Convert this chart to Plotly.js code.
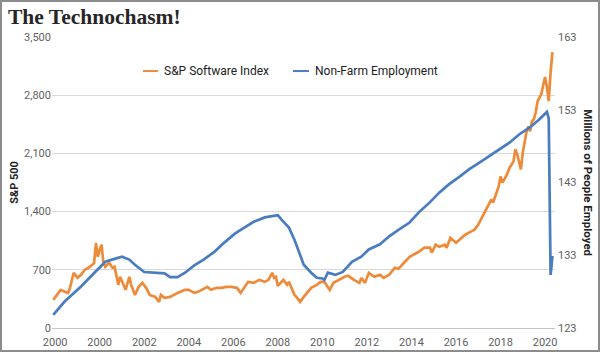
<!DOCTYPE html>
<html>
<head>
<meta charset="utf-8">
<script src="https://cdn.plot.ly/plotly-3.0.1.min.js"></script>
<style>
  html, body { margin: 0; padding: 0; background: #fff; }
  #chart { width: 600px; height: 352px; box-sizing: border-box; border: 2px solid #8c8c8c; }
</style>
</head>
<body>
<div id="chart"></div>
<script>
// ---- Data ----
const softwareName = "S&P Software Index";
const employmentName = "Non-Farm Employment";

const softwareDates = [
  "1997-12","1998-02","1998-04","1998-06","1998-08","1998-09","1998-11","1999-01","1999-03","1999-05",
  "1999-07","1999-09","1999-10","1999-11","1999-12","2000-01","2000-02","2000-03","2000-04","2000-06",
  "2000-08","2000-09","2000-11","2000-12","2001-03","2001-05","2001-06","2001-08","2001-10","2001-12",
  "2002-02","2002-04","2002-07","2002-09","2002-10","2002-12","2003-03","2003-07","2003-11","2004-01",
  "2004-04","2004-06","2004-08","2004-11","2005-01","2005-04","2005-07","2005-09","2005-12","2006-03",
  "2006-05","2006-07","2006-09","2006-12","2007-03","2007-06","2007-08","2007-10","2007-11","2007-12",
  "2008-01","2008-04","2008-06","2008-07","2008-08","2008-10","2008-11","2009-01","2009-03","2009-05",
  "2009-07","2009-10","2009-12","2010-02","2010-05","2010-07","2010-10","2011-01","2011-03","2011-06",
  "2011-09","2011-10","2011-12","2012-02","2012-05","2012-08","2012-10","2013-01","2013-04","2013-06",
  "2013-09","2013-12","2014-02","2014-05","2014-08","2014-11","2014-12","2015-02","2015-04","2015-07",
  "2015-08","2015-10","2016-01","2016-03","2016-04","2016-06","2016-09","2016-11","2017-01","2017-03",
  "2017-05","2017-06","2017-08","2017-09","2017-11","2017-12","2018-01","2018-02","2018-04","2018-06",
  "2018-08","2018-09","2018-10","2018-11","2018-12","2019-01","2019-02","2019-03","2019-04","2019-05",
  "2019-06","2019-07","2019-08","2019-09","2019-10","2019-11","2019-12","2020-01","2020-02","2020-03",
  "2020-04","2020-05"
];
const softwareValues = [
  338, 398, 459, 440, 422, 483, 664, 603, 640, 700,
  724, 760, 780, 1022, 857, 940, 1002, 785, 736, 785,
  724, 736, 519, 616, 459, 616, 519, 398, 495, 543,
  483, 398, 374, 314, 398, 362, 374, 422, 459, 459,
  422, 435, 459, 495, 459, 483, 483, 495, 495, 483,
  422, 483, 555, 543, 579, 555, 579, 664, 603, 616,
  507, 579, 519, 555, 495, 398, 374, 314, 374, 435,
  483, 519, 555, 555, 459, 543, 579, 616, 628, 579,
  543, 603, 543, 664, 616, 640, 603, 640, 724, 712,
  785, 857, 881, 917, 966, 966, 905, 1002, 978, 1002,
  966, 1086, 1026, 1062, 1086, 1122, 1159, 1183, 1243, 1328,
  1400, 1460, 1545, 1509, 1629, 1702, 1822, 1750, 1822, 1931,
  2004, 2148, 2088, 2000, 1907, 2112, 2233, 2354, 2426, 2366,
  2486, 2511, 2595, 2728, 2770, 2812, 2920, 3018, 2897, 2728,
  3078, 3319
];

const employmentDates = [
  "1997-12","1998-06","1999-03","1999-12","2000-04","2000-09","2001-01","2001-05","2001-08","2002-01",
  "2002-07","2002-12","2003-03","2003-07","2003-11","2004-04","2004-09","2005-03","2005-08","2006-02",
  "2006-07","2006-12","2007-06","2007-09","2008-01","2008-03","2008-07","2008-10","2009-01","2009-03",
  "2009-07","2009-10","2010-01","2010-02","2010-04","2010-08","2010-12","2011-05","2011-10","2012-02",
  "2012-08","2013-01","2013-06","2013-12","2014-05","2014-11","2015-04","2015-09","2016-03","2016-08",
  "2017-02","2017-07","2018-01","2018-06","2018-11","2019-05","2019-10","2020-02","2020-03","2020-04",
  "2020-05"
];
const employmentValues = [
  124.8, 126.6, 128.7, 131.0, 132.1, 132.5, 132.8, 132.4, 131.7, 130.7,
  130.6, 130.5, 130.0, 130.0, 130.6, 131.6, 132.4, 133.5, 134.7, 136.0,
  136.8, 137.6, 138.2, 138.3, 138.5, 137.9, 136.8, 135.1, 133.1, 131.7,
  130.6, 129.9, 129.8, 129.6, 130.6, 130.3, 130.7, 132.1, 132.8, 133.8,
  134.5, 135.6, 136.5, 137.5, 138.9, 140.3, 141.6, 142.7, 143.8, 144.8,
  145.8, 146.6, 147.6, 148.5, 149.6, 150.6, 151.7, 152.7, 151.8, 130.3,
  132.9
];

// Axis ticks
const xTickDates = ["1998-01-01","2000-01-01","2002-01-01","2004-01-01","2006-01-01","2008-01-01",
                    "2010-01-01","2012-01-01","2014-01-01","2016-01-01","2018-01-01","2020-01-01"];
const xTickLabels = ["2000","2000","2002","2004","2006","2008","2010","2012","2014","2016","2018","2020"];
const leftTicks = [0, 700, 1400, 2100, 2800, 3500];
const rightTicks = [123, 133, 143, 153, 163];

// ---- Styling ----
const orange = "#EE8B3A";
const blue = "#4A7CC0";
const tickFont = { family: "Roboto, sans-serif", size: 11, color: "#5f5f5f" };

const traces = [
  {
    x: softwareDates, y: softwareValues, name: softwareName, type: "scatter", mode: "lines",
    line: { color: orange, width: 2.7 }, yaxis: "y", hoverinfo: "skip"
  },
  {
    x: employmentDates, y: employmentValues, name: employmentName, type: "scatter", mode: "lines",
    line: { color: blue, width: 2.7 }, yaxis: "y2", hoverinfo: "skip"
  }
];

const legendY = 0.883;
const layout = {
  width: 596, height: 348,
  margin: { l: 50, r: 43, t: 35, b: 22, pad: 0 },
  paper_bgcolor: "#fff", plot_bgcolor: "#fff",
  showlegend: false,
  font: { family: "Roboto, sans-serif", color: "#333" },
  title: {
    text: "<b>The Technochasm!</b>",
    font: { family: "Liberation Serif, serif", size: 21.5, color: "#262626" },
    xref: "container", yref: "container", x: 0.01, xanchor: "left", y: 0.958, yanchor: "middle"
  },
  xaxis: {
    type: "date",
    range: ["1997-11-10", "2020-06-12"],
    tickmode: "array", tickvals: xTickDates, ticktext: xTickLabels,
    tickfont: tickFont, showgrid: false, showline: true, linecolor: "#c4c4c4", linewidth: 1,
    ticks: "", ticklabelstandoff: 4, zeroline: false, fixedrange: true
  },
  yaxis: {
    range: [0, 3500], tickmode: "array", tickvals: leftTicks, tickformat: ",d",
    tickfont: tickFont, showgrid: true, gridcolor: "#d9d9d9", gridwidth: 1, zeroline: false,
    ticks: "", showline: false,
    title: { text: "<b>S&P 500</b>", font: { family: "Roboto, sans-serif", size: 11, color: "#222" }, standoff: 3 }
  },
  yaxis2: {
    overlaying: "y", side: "right", range: [123, 163], tickmode: "array", tickvals: rightTicks,
    tickfont: tickFont, showgrid: false, zeroline: false, showline: false, ticks: "", ticklabelstandoff: 2
  },
  shapes: [
    { type: "line", xref: "paper", yref: "paper", x0: 0.1809, x1: 0.2107, y0: legendY, y1: legendY,
      line: { color: orange, width: 2 } },
    { type: "line", xref: "paper", yref: "paper", x0: 0.4791, x1: 0.5109, y0: legendY, y1: legendY,
      line: { color: blue, width: 2 } }
  ],
  annotations: [
    { xref: "paper", yref: "paper", x: 0.2187, y: legendY, xanchor: "left", yanchor: "middle",
      text: softwareName, showarrow: false, font: { family: "Roboto, sans-serif", size: 12, color: "#222" } },
    { xref: "paper", yref: "paper", x: 0.5189, y: legendY, xanchor: "left", yanchor: "middle",
      text: employmentName, showarrow: false, font: { family: "Roboto, sans-serif", size: 12, color: "#222" } },
    { xref: "paper", yref: "paper", x: 1.066, y: 0.5, xanchor: "center", yanchor: "middle",
      text: "<b>Millions of People Employed</b>", textangle: 90, showarrow: false,
      font: { family: "Roboto, sans-serif", size: 11.5, color: "#222" } }
  ]
};

Plotly.newPlot("chart", traces, layout, { staticPlot: true, displayModeBar: false });
</script>
</body>
</html>
